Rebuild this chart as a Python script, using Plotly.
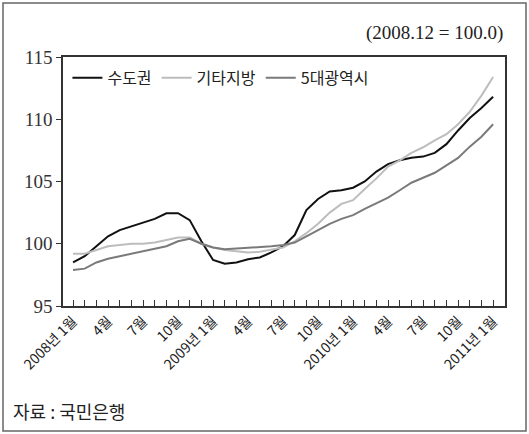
import plotly.graph_objects as go

months = list(range(37))
tick_idx = [0, 3, 6, 9, 12, 15, 18, 21, 24, 27, 30, 33, 36]
tick_text = ["2008년 1월", "4월", "7월", "10월", "2009년 1월", "4월", "7월", "10월",
             "2010년 1월", "4월", "7월", "10월", "2011년 1월"]

capital = [98.5, 99.0, 99.8, 100.6, 101.1, 101.4, 101.7, 102.0, 102.45, 102.45, 101.9, 100.2,
           98.7, 98.4, 98.5, 98.75, 98.9, 99.3, 99.8, 100.7, 102.7, 103.6, 104.2, 104.3,
           104.5, 105.0, 105.8, 106.4, 106.7, 106.9, 107.0, 107.3, 108.0, 109.1, 110.1, 110.9, 111.8]
other = [99.2, 99.2, 99.5, 99.8, 99.9, 100.0, 100.0, 100.1, 100.3, 100.5, 100.5, 100.0,
         99.7, 99.5, 99.4, 99.3, 99.35, 99.5, 99.7, 100.2, 100.85, 101.6, 102.5, 103.2,
         103.5, 104.4, 105.25, 106.2, 106.7, 107.3, 107.75, 108.3, 108.8, 109.6, 110.6, 111.9, 113.4]
metro = [97.9, 98.0, 98.5, 98.8, 99.0, 99.2, 99.4, 99.6, 99.8, 100.2, 100.4, 100.0,
         99.7, 99.55, 99.6, 99.65, 99.7, 99.8, 99.9, 100.1, 100.6, 101.1, 101.6, 102.0,
         102.3, 102.8, 103.25, 103.7, 104.3, 104.9, 105.3, 105.7, 106.3, 106.9, 107.8, 108.6, 109.6]

names = ["수도권", "기타지방", "5대광역시"]
colors = ["#111111", "#bdbdbd", "#7a7a7a"]
series = [capital, other, metro]

FONT = "Liberation Serif, Noto Sans CJK KR, serif"

fig = go.Figure()
for nm, col, ys in zip(names, colors, series):
    fig.add_trace(go.Scatter(x=months, y=ys, mode="lines", name=nm,
                             line=dict(color=col, width=2)))

W, H = 529, 434
L, R, T, B = 63, 24, 57, 128
pw, ph = W - L - R, H - T - B

def px_x(p):
    return (p - L) / pw

def px_y(p):
    return (H - B - p) / ph

fig.update_layout(
    width=W, height=H,
    margin=dict(l=L, r=R, t=T, b=B),
    paper_bgcolor="white", plot_bgcolor="white",
    font=dict(family=FONT, color="#222"),
    showlegend=True,
    legend=dict(orientation="h", x=0.01, y=0.985, xanchor="left", yanchor="top",
                font=dict(size=16, family="Noto Sans CJK KR", color="#222"),
                bgcolor="rgba(0,0,0,0)", itemwidth=30, tracegroupgap=0),
    xaxis=dict(range=[-0.86, 37.02], tickmode="array", tickvals=tick_idx, ticktext=tick_text,
               tickangle=-45, ticks="inside", ticklen=6, tickcolor="#333",
               minor=dict(tickmode="linear", tick0=0, dtick=1, ticks="inside", ticklen=6,
                          tickcolor="#333"),
               showgrid=False, zeroline=False, showline=True, linecolor="#333", linewidth=1.5,
               mirror=True, tickfont=dict(size=14, family="Noto Sans CJK KR", color="#222")),
    yaxis=dict(range=[95, 115], tickvals=[95, 100, 105, 110, 115], ticks="outside",
               ticklen=5, tickcolor="#333", showgrid=False, zeroline=False, showline=True,
               linecolor="#333", linewidth=1.5, mirror=True,
               tickfont=dict(size=19, family="Liberation Serif", color="#333")),
)

fig.add_annotation(text="(2008.12 = 100.0)", xref="paper", yref="paper",
                   x=px_x(505), y=px_y(33), xanchor="right", yanchor="middle",
                   showarrow=False, font=dict(size=19, family="Liberation Serif", color="#222"))
fig.add_annotation(text="자료 : 국민은행", xref="paper", yref="paper",
                   x=px_x(11), y=px_y(411), xanchor="left", yanchor="middle",
                   showarrow=False, font=dict(size=18, family="Noto Sans CJK KR", color="#222"))
fig.add_shape(type="rect", xref="paper", yref="paper",
              x0=px_x(3), x1=px_x(526), y0=px_y(431), y1=px_y(3),
              line=dict(color="#666", width=1.5), layer="below")

fig.write_html("out.html")
